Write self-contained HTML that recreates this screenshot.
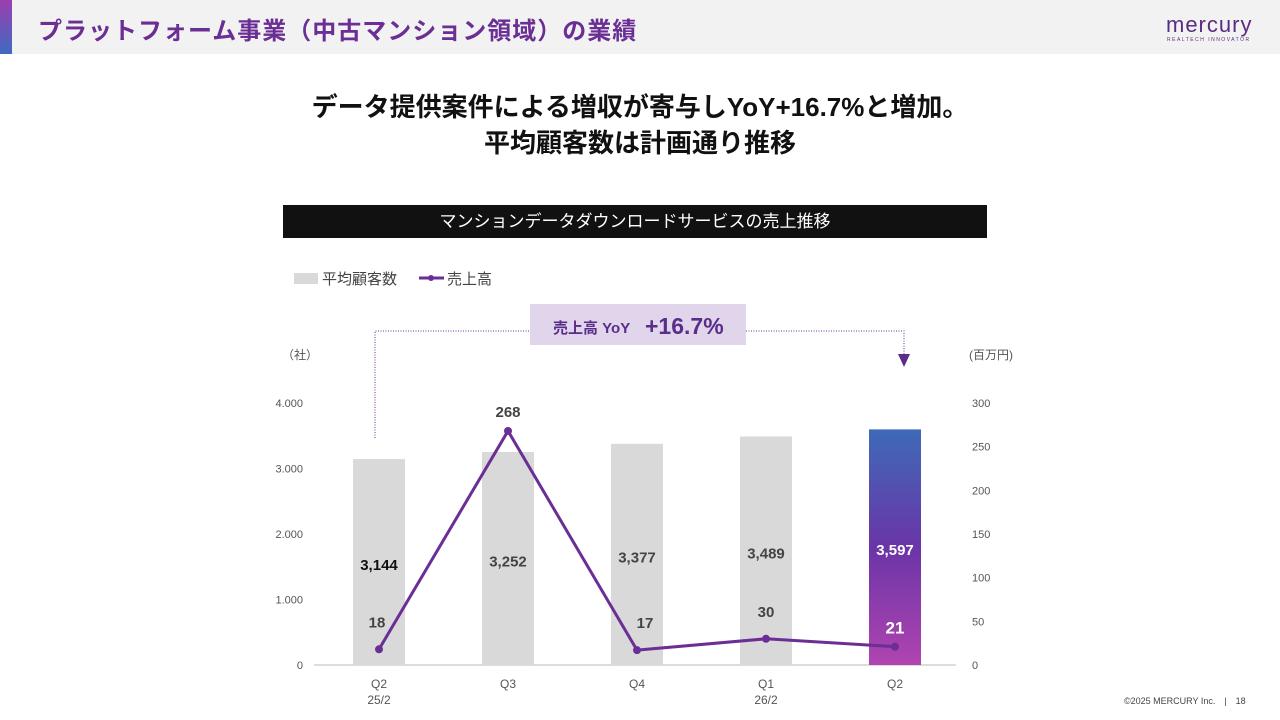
<!DOCTYPE html>
<html><head><meta charset="utf-8">
<style>
body{margin:0;width:1280px;height:720px;background:#fff;font-family:"Liberation Sans","Noto Sans CJK JP",sans-serif;position:relative;overflow:hidden}
.hdr{position:absolute;left:0;top:0;width:1280px;height:54px;background:#f2f2f2}
.bar{position:absolute;left:0;top:0;width:12px;height:54px;background:linear-gradient(#9b3fb0,#3f6abf)}
.title{position:absolute;left:38px;top:11px;font-size:24px;font-weight:bold;color:#6a2e95;letter-spacing:1px}
.logo{position:absolute;left:1166px;top:12px;font-size:22px;color:#5a2d82;letter-spacing:1px}
.logo2{position:absolute;left:1167px;top:37px;font-size:5px;color:#5a2d82;letter-spacing:1.5px}
.head{position:absolute;left:0;width:1280px;text-align:center;font-size:26px;font-weight:bold;color:#111}
.band{position:absolute;left:283px;top:205px;width:704px;height:33px;background:#111;color:#fff;text-align:center;font-size:17px;line-height:33px}
.foot{position:absolute;left:1124px;top:694px;font-size:9px;color:#444}
</style></head><body>
<div class="hdr"></div>
<div class="bar"></div>
<div class="title">プラットフォーム事業（中古マンション領域）の業績</div>
<div class="logo">mercury</div>
<div class="logo2">REALTECH INNOVATOR</div>
<div class="head" style="top:87px">データ提供案件による増収が寄与しYoY+16.7%と増加。</div>
<div class="head" style="top:123px">平均顧客数は計画通り推移</div>
<div class="band">マンションデータダウンロードサービスの売上推移</div>
<svg id="chart" width="1280" height="720" style="position:absolute;left:0;top:0">
<defs><linearGradient id="g" x1="0" y1="0" x2="0" y2="1"><stop offset="0" stop-color="#3e6ab8"/><stop offset="0.5" stop-color="#6a35a8"/><stop offset="1" stop-color="#b044b0"/></linearGradient></defs>
</svg>
<div class="foot">©2025 MERCURY Inc.　|　18</div>
<script>
const categories=["Q2","Q3","Q4","Q1","Q2"];
const subLabels=["25/2","","","26/2",""];
const customers=[3144,3252,3377,3489,3597];
const sales=[18,268,17,30,21];
const leftTicks=[0,1000,2000,3000,4000];
const leftTickLabels=["0","1.000","2.000","3.000","4.000"];
const rightTicks=[0,50,100,150,200,250,300];
const NS="http://www.w3.org/2000/svg";
const svg=document.getElementById('chart');
const y0=665,yTop=403;
const yL=v=>y0-(v/4000)*(y0-yTop);
const yR=v=>y0-(v/300)*(y0-yTop);
const xC=i=>379+i*129;
function el(t,a,txt){const e=document.createElementNS(NS,t);for(const k in a)e.setAttribute(k,a[k]);if(txt!==undefined)e.textContent=txt;svg.appendChild(e);return e;}
const F='"Liberation Sans","Noto Sans CJK JP",sans-serif';
let e=el('rect',{x:294,y:273,width:24,height:11,fill:'#d9d9d9'});


e=el('text',{x:322,y:284,'font-size':15,fill:'#444','font-family':F},'平均顧客数');


e=el('line',{x1:419,y1:278,x2:444,y2:278,stroke:'#6a2e95','stroke-width':3});


el('circle',{cx:431,cy:278,r:3,fill:'#6a2e95'});
e=el('text',{x:447,y:284,'font-size':15,fill:'#444','font-family':F},'売上高');


e=el('polyline',{points:'375,438 375,331 530,331',fill:'none',stroke:'#6a2e95','stroke-dasharray':'1,1.5'});


e=el('polyline',{points:'746,331 904,331 904,355',fill:'none',stroke:'#6a2e95','stroke-dasharray':'1,1.5'});


el('polygon',{points:'898,354 910,354 904,367',fill:'#5a2d8a'});
e=el('rect',{x:530,y:304,width:216,height:41,fill:'#e0d5ea'});


el('text',{x:553,y:333,'font-size':15,fill:'#5a2d8a','font-family':F,'font-weight':'bold'},'売上高 YoY');
el('text',{x:645,y:334,'font-size':23,fill:'#5a2d8a','font-family':F,'font-weight':'bold'},'+16.7%');
el('text',{x:282,y:359,'font-size':12,fill:'#555','font-family':F},'（社）');
el('text',{x:969,y:359,'font-size':12,fill:'#555','font-family':F},'(百万円)');
leftTicks.forEach((t,i)=>{const e=el('text',{x:303,y:yL(t)+4,'font-size':11,fill:'#555','text-anchor':'end','font-family':F},leftTickLabels[i]);

});
rightTicks.forEach(t=>{const e=el('text',{x:972,y:yR(t)+4,'font-size':11,fill:'#555','font-family':F},String(t));

});
el('line',{x1:314,y1:y0,x2:956,y2:y0,stroke:'#bbb','stroke-width':1});
customers.forEach((v,i)=>{const last=i===customers.length-1;
const b=el('rect',{x:xC(i)-26,y:yL(v),width:52,height:y0-yL(v),fill:last?'url(#g)':'#d9d9d9'});


const ly=(yL(v)+y0)/2+8;
const t=el('text',{x:xC(i),y:ly,'font-size':15,'font-weight':'bold','text-anchor':'middle',fill:last?'#fff':(i===0?'#111':'#444'),'font-family':F},v.toLocaleString('en-US'));


const c=el('text',{x:xC(i),y:688,'font-size':12,'text-anchor':'middle',fill:'#555','font-family':F},categories[i]);


if(subLabels[i]){const s=el('text',{x:xC(i),y:704,'font-size':12,'text-anchor':'middle',fill:'#555','font-family':F},subLabels[i]);

}
});
const ln=el('polyline',{points:sales.map((v,i)=>xC(i)+','+yR(v)).join(' '),fill:'none',stroke:'#6a2e95','stroke-width':3,'stroke-linejoin':'round'});


sales.forEach((v,i)=>{const p=el('circle',{cx:xC(i),cy:yR(v),r:4,fill:'#6a2e95'});


const last=i===sales.length-1;
let ly=yR(v)-22;if(v>200)ly=yR(v)-14;if(last)ly=yR(v)-13;
const t=el('text',{x:xC(i)+(i===2?8:(i===0?-2:0)),y:ly,'font-size':last?17:15,'font-weight':'bold','text-anchor':'middle',fill:last?'#fff':'#444','font-family':F},String(v));


});
</script>
</body></html>
